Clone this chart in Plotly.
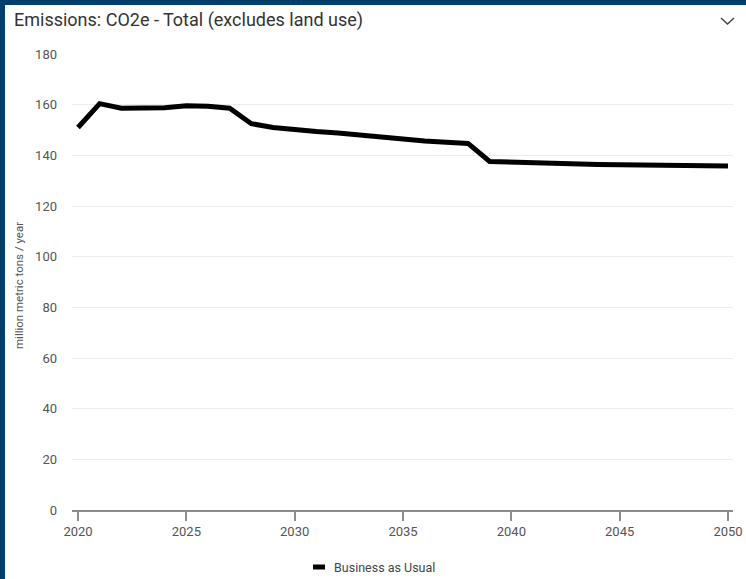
import plotly.graph_objects as go

# Annual total CO2e emissions, excluding land use (million metric tons / year)
years = list(range(2020, 2051))
bau = [151.0, 160.4, 158.6, 158.8, 158.8, 159.6, 159.4, 158.6, 152.5, 151.0,
       150.1, 149.4, 148.8, 148.0, 147.0, 146.4, 145.7, 145.2, 144.7, 137.6,
       137.3, 137.0, 136.8, 136.6, 136.4, 136.3, 136.2, 136.1, 136.0, 135.9,
       135.8]
series_name = "Business as Usual"
title_text = "Emissions: CO2e - Total (excludes land use)"
y_title = "million metric tons / year"
x_ticks = [2020, 2025, 2030, 2035, 2040, 2045, 2050]
y_ticks = list(range(0, 181, 20))

W, H = 746, 579
L, R, T, B = 72, 13, 54, 69
PW, PH = W - L - R, H - T - B
FONT = "Roboto, Open Sans, sans-serif"
FRAME = "#003f6b"


def px(x):
    return (x - L) / PW


def py(y):
    return (H - B - y) / PH


fig = go.Figure()
fig.add_trace(go.Scatter(
    x=years, y=bau, mode="lines", name=series_name,
    line=dict(color="#000000", width=5, shape="linear"),
    showlegend=False,
))

shapes = [
    # dark frame along the left and top edges
    dict(type="rect", xref="paper", yref="paper", x0=px(0), x1=px(5),
         y0=py(H), y1=py(0), fillcolor=FRAME, line=dict(width=0), layer="above"),
    dict(type="rect", xref="paper", yref="paper", x0=px(0), x1=px(W),
         y0=py(5), y1=py(0), fillcolor=FRAME, line=dict(width=0), layer="above"),
    # collapse chevron
    dict(type="path", xref="paper", yref="paper",
         path=f"M {px(721)} {py(18)} L {px(727.5)} {py(24)} L {px(734)} {py(18)}",
         line=dict(color="#444444", width=1.5)),
    # legend swatch
    dict(type="line", xref="paper", yref="paper", x0=px(313), x1=px(325),
         y0=py(567), y1=py(567), line=dict(color="#000000", width=5)),
]

annotations = [
    dict(text=title_text, xref="paper", yref="paper", x=px(12), y=py(20),
         xanchor="left", yanchor="middle", showarrow=False,
         font=dict(family=FONT, size=18, color="#333333")),
    dict(text=y_title, xref="paper", yref="paper", x=px(19), y=py(285),
         xanchor="center", yanchor="middle", textangle=-90, showarrow=False,
         font=dict(family=FONT, size=11.5, color="#555555")),
    dict(text=series_name, xref="paper", yref="paper", x=px(332), y=py(567),
         xanchor="left", yanchor="middle", showarrow=False,
         font=dict(family=FONT, size=12.5, color="#444444")),
]

fig.update_layout(
    width=W, height=H,
    margin=dict(l=L, r=R, t=T, b=B, pad=0, autoexpand=False),
    paper_bgcolor="#ffffff", plot_bgcolor="#ffffff",
    shapes=shapes, annotations=annotations,
    showlegend=False,
    xaxis=dict(
        range=[2020 - 6 / 21.667, 2050 + 5 / 21.667],
        tickvals=x_ticks, ticktext=[str(v) for v in x_ticks],
        showgrid=False, zeroline=False, automargin=False,
        showline=True, linecolor="#8c8c8c", linewidth=1.5,
        ticks="outside", ticklen=9, tickcolor="#8c8c8c", tickwidth=1.5,
        tickfont=dict(family=FONT, size=13, color="#555555"),
        fixedrange=True,
    ),
    yaxis=dict(
        range=[0, 180],
        tickvals=y_ticks, ticktext=[str(v) for v in y_ticks],
        showgrid=True, gridcolor="#ececec", gridwidth=1,
        zeroline=False, showline=False, ticks="", automargin=False,
        ticklabelstandoff=14,
        tickfont=dict(family=FONT, size=13, color="#555555"),
        fixedrange=True,
    ),
)

# keep the page free of scrollbars so the figure gets the full window
page_js = (
    "document.documentElement.style.overflow='hidden';"
    "document.body.style.overflow='hidden';"
    "document.body.style.margin='0';"
)
fig.write_html("out.html", config={"displayModeBar": False,
                                   "responsive": False},
               post_script=page_js)
